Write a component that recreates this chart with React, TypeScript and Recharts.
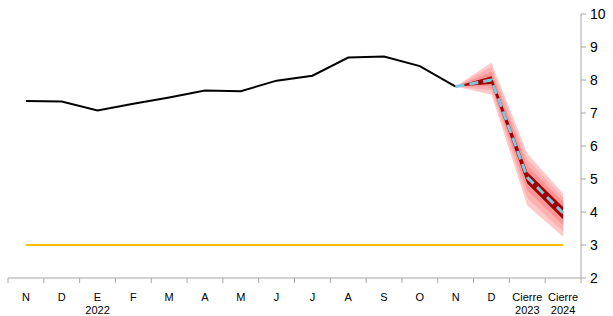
import React from 'react';
import { Area, ComposedChart, Line, XAxis, YAxis } from 'recharts';

const months = ['N', 'D', 'E', 'F', 'M', 'A', 'M', 'J', 'J', 'A', 'S', 'O', 'N', 'D', 'Cierre', 'Cierre'];
const years = ['', '', '2022', '', '', '', '', '', '', '', '', '', '', '', '2023', '2024'];

// observed inflation
const observed = [7.36, 7.35, 7.08, 7.28, 7.47, 7.68, 7.66, 7.98, 8.13, 8.68, 8.71, 8.42, 7.8, null, null, null];
// central projection
const central = [null, null, null, null, null, null, null, null, null, null, null, null, 7.8, 8.0, 5.05, 3.97];
const target = [3, 3, 3, 3, 3, 3, 3, 3, 3, 3, 3, 3, 3, 3, 3, 3];

// fan bands (low / high), from widest to narrowest
const outerLow = [7.8, 7.55, 4.2, 3.25];
const outerHigh = [7.8, 8.53, 5.77, 4.56];
const band2Low = [7.8, 7.68, 4.42, 3.42];
const band2High = [7.8, 8.4, 5.6, 4.43];
const band3Low = [7.8, 7.8, 4.65, 3.6];
const band3High = [7.8, 8.25, 5.4, 4.3];
const innerLow = [7.8, 7.88, 4.86, 3.78];
const innerHigh = [7.8, 8.11, 5.21, 4.15];

const yTicks = [2, 3, 4, 5, 6, 7, 8, 9, 10];
const fanStart = 12;

const band = (lo: number[], hi: number[], i: number) =>
  i >= fanStart ? [lo[i - fanStart], hi[i - fanStart]] : null;

const data = months.map((m, i) => ({
  idx: i,
  observed: observed[i],
  central: central[i],
  target: target[i],
  outer: band(outerLow, outerHigh, i),
  band2: band(band2Low, band2High, i),
  band3: band(band3Low, band3High, i),
  inner: band(innerLow, innerHigh, i),
}));

const AXIS = '#a6a6a6';
const FONT = '"Liberation Sans", Arial, sans-serif';

function MonthTick(props: any) {
  const { x, y, payload, index } = props;
  const half = payload.offset || 0;
  const i = payload.value;
  const last = index === months.length - 1;
  return (
    <g>
      <line x1={x - half} x2={x - half} y1={y} y2={y + 5} stroke={AXIS} />
      {last && <line x1={x + half} x2={x + half} y1={y} y2={y + 5} stroke={AXIS} />}
      <text x={x} y={y + 23} textAnchor="middle" fontSize={11} fill="#000" fontFamily={FONT}>
        {months[i]}
      </text>
      {years[i] && (
        <text x={x} y={y + 36} textAnchor="middle" fontSize={11} fill="#000" fontFamily={FONT}>
          {years[i]}
        </text>
      )}
    </g>
  );
}

export default function App() {
  return (
    <div style={{ position: 'absolute', left: 0, top: 0, width: 613, height: 316, background: '#fff' }}>
      <ComposedChart width={613} height={316} data={data} margin={{ top: 14, right: 0, left: 8, bottom: 0 }}>
        <XAxis
          dataKey="idx"
          type="category"
          scale="band"
          height={38}
          interval={0}
          tickLine={false}
          tickSize={0}
          tickMargin={0}
          axisLine={{ stroke: AXIS }}
          tick={<MonthTick />}
        />
        <YAxis
          orientation="right"
          width={32}
          domain={[2, 10]}
          ticks={yTicks}
          interval={0}
          tickSize={5}
          tickMargin={4}
          axisLine={{ stroke: AXIS }}
          tickLine={{ stroke: AXIS }}
          tick={{ fontSize: 14, fill: '#000', fontFamily: FONT }}
        />
        <Line dataKey="target" type="linear" stroke="#ffc000" strokeWidth={2} dot={false} isAnimationActive={false} />
        <Area dataKey="outer" type="linear" stroke="none" fill="#ffcaca" fillOpacity={1} isAnimationActive={false} />
        <Area dataKey="band2" type="linear" stroke="none" fill="#ffb1b1" fillOpacity={1} isAnimationActive={false} />
        <Area dataKey="band3" type="linear" stroke="none" fill="#fb9595" fillOpacity={1} isAnimationActive={false} />
        <Area dataKey="inner" type="linear" stroke="none" fill="#a00000" fillOpacity={1} isAnimationActive={false} />
        <Line dataKey="observed" type="linear" stroke="#000" strokeWidth={2} dot={false} isAnimationActive={false} />
        <Line
          dataKey="central"
          type="linear"
          stroke="#80c6dc"
          strokeWidth={3}
          strokeDasharray="9 5"
          dot={false}
          isAnimationActive={false}
        />
      </ComposedChart>
    </div>
  );
}
